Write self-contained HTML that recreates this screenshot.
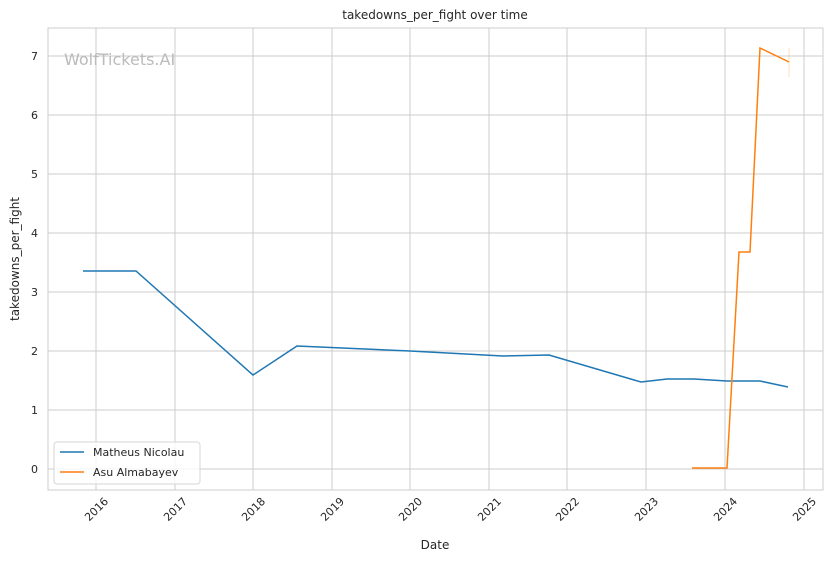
<!DOCTYPE html>
<html><head><meta charset="utf-8"><style>body{margin:0;background:#fff}</style></head><body>
<svg width="832" height="561" xmlns="http://www.w3.org/2000/svg" font-family="DejaVu Sans, Liberation Sans, sans-serif">
<rect width="832" height="561" fill="#fff"/>
<g stroke="#cccccc" stroke-width="1">
<line x1="96" y1="28" x2="96" y2="490"/><line x1="175" y1="28" x2="175" y2="490"/><line x1="253" y1="28" x2="253" y2="490"/><line x1="332" y1="28" x2="332" y2="490"/><line x1="410" y1="28" x2="410" y2="490"/><line x1="489" y1="28" x2="489" y2="490"/><line x1="567" y1="28" x2="567" y2="490"/><line x1="646" y1="28" x2="646" y2="490"/><line x1="725" y1="28" x2="725" y2="490"/><line x1="804" y1="28" x2="804" y2="490"/>
<line x1="48" y1="469" x2="823" y2="469"/><line x1="48" y1="410" x2="823" y2="410"/><line x1="48" y1="351" x2="823" y2="351"/><line x1="48" y1="292" x2="823" y2="292"/><line x1="48" y1="233" x2="823" y2="233"/><line x1="48" y1="174" x2="823" y2="174"/><line x1="48" y1="115" x2="823" y2="115"/><line x1="48" y1="56" x2="823" y2="56"/>
</g>
<rect x="48" y="28" width="775" height="462" fill="none" stroke="#cccccc"/>
<text x="64" y="65" font-size="16" fill="#bbbbbb">WolfTickets.AI</text>
<polyline fill="none" stroke="#1f77b4" stroke-width="1.5" points="83,271 136,271 253,375 297,346 410,351 503,356 549,355 641,382 667,379 694,379 727,381 760,381 788,387"/>
<polyline fill="none" stroke="#ff7f0e" stroke-width="1.5" points="692,468 727,468 739,252 750,252 760,48 789,62"/>
<line x1="789" y1="48" x2="789" y2="77" stroke="#ff7f0e" stroke-opacity="0.25"/>
<g font-size="11" fill="#262626" text-anchor="end">
<text x="38" y="473">0</text><text x="38" y="414">1</text><text x="38" y="355">2</text><text x="38" y="296">3</text><text x="38" y="237">4</text><text x="38" y="178">5</text><text x="38" y="119">6</text><text x="38" y="60">7</text>
</g>
<g font-size="11" fill="#262626" text-anchor="end">
<text transform="translate(109,502) rotate(-45)">2016</text><text transform="translate(188,502) rotate(-45)">2017</text><text transform="translate(266,502) rotate(-45)">2018</text><text transform="translate(345,502) rotate(-45)">2019</text><text transform="translate(423,502) rotate(-45)">2020</text><text transform="translate(502,502) rotate(-45)">2021</text><text transform="translate(580,502) rotate(-45)">2022</text><text transform="translate(659,502) rotate(-45)">2023</text><text transform="translate(738,502) rotate(-45)">2024</text><text transform="translate(817,502) rotate(-45)">2025</text>
</g>
<text x="435" y="549" font-size="12" fill="#262626" text-anchor="middle">Date</text>
<text transform="translate(19,259) rotate(-90)" font-size="12" fill="#262626" text-anchor="middle">takedowns_per_fight</text>
<text x="435" y="19" font-size="12" fill="#262626" text-anchor="middle">takedowns_per_fight over time</text>
<rect x="54" y="442" width="146" height="42" rx="3" fill="#fff" fill-opacity="0.8" stroke="#d6d6d6"/>
<line x1="60" y1="452" x2="84" y2="452" stroke="#1f77b4" stroke-width="1.5"/>
<text x="93" y="456" font-size="11" fill="#262626">Matheus Nicolau</text>
<line x1="60" y1="472" x2="84" y2="472" stroke="#ff7f0e" stroke-width="1.5"/>
<text x="93" y="476" font-size="11" fill="#262626">Asu Almabayev</text>
</svg>
</body></html>
